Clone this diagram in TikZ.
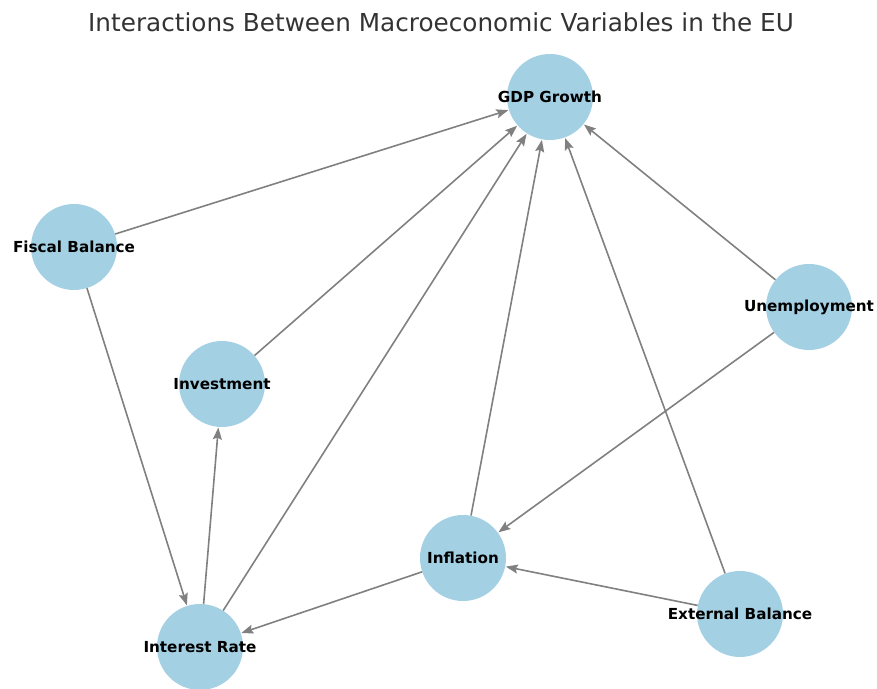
\documentclass[tikz,border=0pt]{standalone}
\usepackage{fontspec}
\setmainfont{DejaVu Sans}
\usetikzlibrary{arrows.meta}
\definecolor{nodeblue}{RGB}{164,208,228}
\definecolor{titlegray}{RGB}{51,51,51}
\tikzset{
  var/.style={circle, fill=nodeblue, minimum size=86pt, inner sep=0pt},
  lab/.style={font=\bfseries\fontsize{15.2}{18}\selectfont, text=black},
  edge/.style={draw=gray, line width=1.6pt, -{Stealth[length=12pt,width=9pt,inset=2pt]}, shorten >=0.5pt}
}
\begin{document}
\begin{tikzpicture}[x=1pt,y=1pt]
\useasboundingbox (0,0) rectangle (877,688);
\clip (0,0) rectangle (877,688);
\node[font=\fontsize{24.7}{29}\selectfont, text=titlegray] (title) at (441,666) {Interactions Between Macroeconomic Variables in the EU};
\node[var] (gdp) at (550,591) {};
\node[var] (fis) at (74,441) {};
\node[var] (inv) at (222,304) {};
\node[var] (une) at (809,381) {};
\node[var] (inf) at (463,130) {};
\node[var] (ext) at (740,74) {};
\node[var] (int) at (200,41) {};
\draw[edge] (fis) -- (gdp);
\draw[edge] (inv) -- (gdp);
\draw[edge] (int) -- (gdp);
\draw[edge] (inf) -- (gdp);
\draw[edge] (ext) -- (gdp);
\draw[edge] (une) -- (gdp);
\draw[edge] (fis) -- (int);
\draw[edge] (int) -- (inv);
\draw[edge] (une) -- (inf);
\draw[edge] (inf) -- (int);
\draw[edge] (ext) -- (inf);
\node[lab] at (gdp) {GDP Growth};
\node[lab] at (fis) {Fiscal Balance};
\node[lab] at (inv) {Investment};
\node[lab] at (une) {Unemployment};
\node[lab] at (inf) {Inflation};
\node[lab] at (ext) {External Balance};
\node[lab] at (int) {Interest Rate};
\end{tikzpicture}
\end{document}
